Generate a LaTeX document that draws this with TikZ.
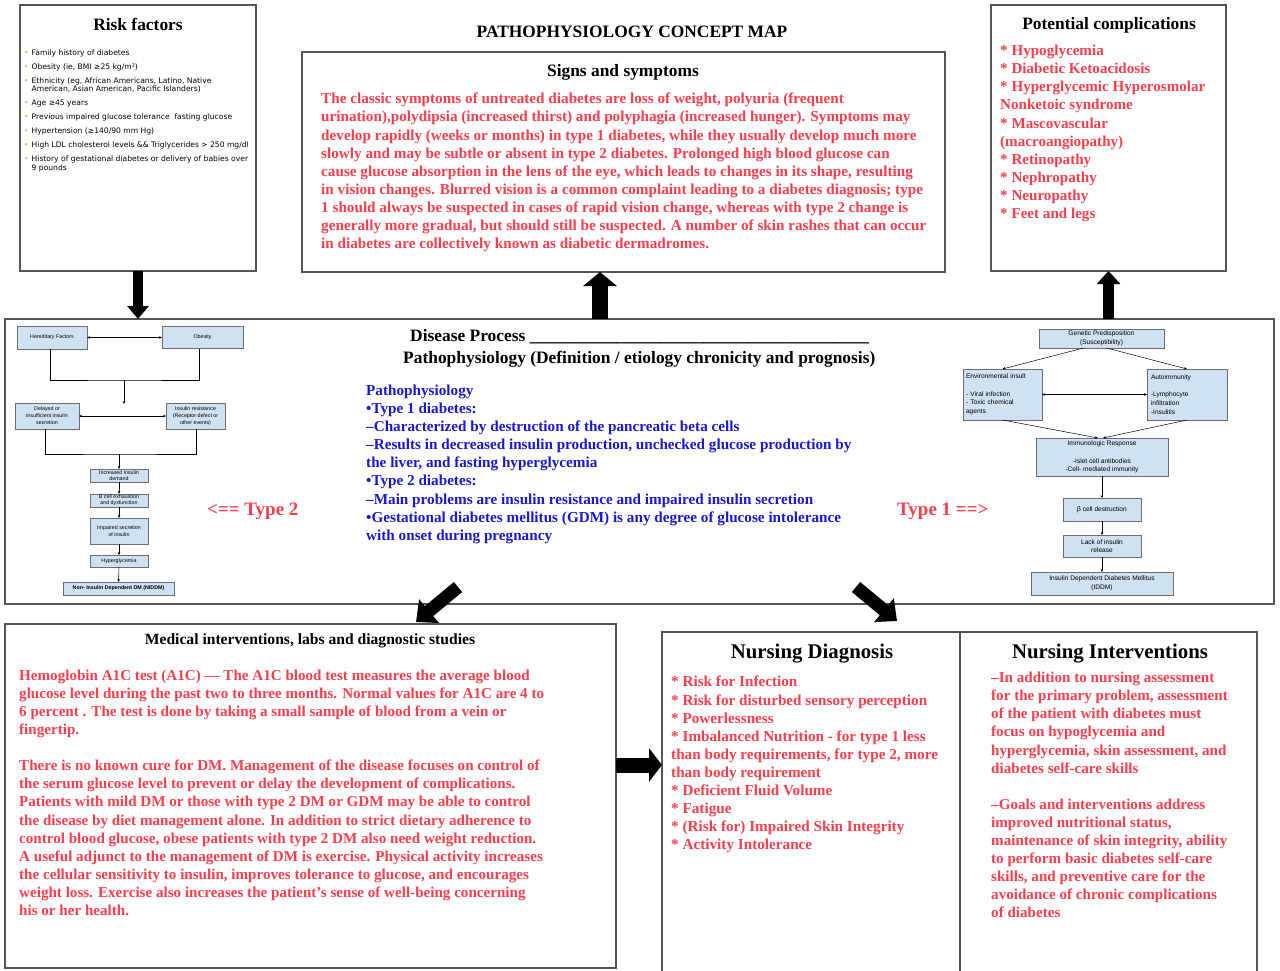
\documentclass[tikz,border=0pt]{standalone}
\usepackage{fontspec}
\setmainfont{Liberation Serif}
\newfontfamily\arialf{Liberation Sans}
\newfontfamily\verdf{DejaVu Sans}
\usetikzlibrary{arrows.meta,calc}
\definecolor{rtxt}{RGB}{250,62,76}
\definecolor{btxt}{RGB}{24,24,215}
\definecolor{fbox}{RGB}{207,226,243}
\definecolor{bordc}{RGB}{85,85,85}
\definecolor{fbord}{RGB}{110,110,110}
\definecolor{goldc}{RGB}{225,180,60}
\begin{document}
\begin{tikzpicture}[x=1pt,y=-1pt,
  bigbox/.style={draw=bordc,line width=1.6pt,inner sep=0pt,outer sep=0pt},
  ttl/.style={inner sep=0pt,font=\bfseries\fontsize{17.4}{19}\selectfont},
  bigttl/.style={inner sep=0pt,font=\bfseries\fontsize{20.8}{23}\selectfont},
  rtext/.style={anchor=north west,inner sep=0pt,align=left,text=rtxt,font=\bfseries\fontsize{15.2}{18.05}\selectfont},
  btext/.style={anchor=north west,inner sep=0pt,align=left,text=btxt,font=\bfseries\fontsize{15.2}{18.05}\selectfont},
  lbox/.style={draw=fbord,fill=fbox,line width=0.6pt,inner sep=1pt,outer sep=0pt,align=center,font=\arialf\fontsize{5.3}{7}\selectfont},
  rbox/.style={draw=fbord,fill=fbox,line width=0.6pt,inner sep=1pt,outer sep=0pt,align=center,font=\arialf\fontsize{6.6}{8.7}\selectfont},
  farr/.style={line width=0.5pt,-{Stealth[length=3pt,width=2.6pt]}},
  fdarr/.style={line width=0.5pt,{Stealth[length=3pt,width=2.6pt]}-{Stealth[length=3pt,width=2.6pt]}},
  fline/.style={line width=0.5pt},
  barrow/.style={line width=#1,-{Triangle[length=13pt,width=22pt]}},
  barrowb/.style={line width=#1,-{Triangle[length=17pt,width=30pt]}}
]
\clip (0,0) rectangle (1280,971);
\fill[white] (0,0) rectangle (1280,971);

% ---------- big boxes ----------
\node[bigbox,minimum width=236pt,minimum height=266pt] (risk) at (138,138) {};
\node[bigbox,minimum width=643pt,minimum height=220pt] (signs) at (623.5,162) {};
\node[bigbox,minimum width=235pt,minimum height=266pt] (comp) at (1108.5,138) {};
\node[bigbox,minimum width=1269pt,minimum height=285pt] (dis) at (639.5,461.5) {};
\node[bigbox,minimum width=611pt,minimum height=344pt] (med) at (310.5,796) {};
\node[bigbox,minimum width=298pt,minimum height=350pt] (ndiag) at (811,807) {};
\node[bigbox,minimum width=297pt,minimum height=350pt] (nint) at (1108.5,807) {};

% ---------- titles ----------
\node[ttl] (maint) at (632,32) {PATHOPHYSIOLOGY CONCEPT MAP};
\node[ttl] (riskt) at (138,24) {Risk factors};
\node[ttl] (signt) at (623,72) {Signs and symptoms};
\node[ttl] (compt) at (1109,25) {Potential complications};
\node[ttl,font=\bfseries\fontsize{15.6}{17}\selectfont] (medt) at (310,641) {Medical interventions, labs and diagnostic studies};
\node[bigttl] (ndiagt) at (812,654) {Nursing Diagnosis};
\node[bigttl] (nintt) at (1110,654) {Nursing Interventions};
\node[ttl,anchor=west] (dpt) at (410,337) {Disease Process \_\_\_\_\_\_\_\_\_\_\_\_\_\_\_\_\_\_\_\_\_\_\_\_\_\_\_\_\_\_\_\_\_\_\_\_\_\_\_};
\node[ttl,anchor=west] (ppt) at (403,359) {Pathophysiology (Definition / etiology chronicity and prognosis)};

% ---------- risk factor list ----------
\node[anchor=north west,inner sep=0pt,font=\verdf\fontsize{7.6}{8}\selectfont] (rflist) at (24,49.5) {%
\begin{tabular}{@{}l@{\hspace{3pt}}l@{}}
\textcolor{goldc}{•} & Family history of diabetes\\[5.9pt]
\textcolor{goldc}{•} & Obesity (ie, BMI ≥25 kg/m²)\\[5.9pt]
\textcolor{goldc}{•} & Ethnicity (eg, African Americans, Latino, Native\\
 & American, Asian American, Pacific Islanders)\\[5.9pt]
\textcolor{goldc}{•} & Age ≥45 years\\[5.9pt]
\textcolor{goldc}{•} & Previous impaired glucose tolerance\ \ fasting glucose\\[5.9pt]
\textcolor{goldc}{•} & Hypertension (≥140/90 mm Hg)\\[5.9pt]
\textcolor{goldc}{•} & High LDL cholesterol levels \&\& Triglycerides > 250 mg/dl\\[5.9pt]
\textcolor{goldc}{•} & History of gestational diabetes or delivery of babies over\\
 & 9 pounds
\end{tabular}};

% ---------- signs text ----------
\node[rtext] (stext) at (321,93) {The classic symptoms of untreated diabetes are loss of weight, polyuria (frequent\\
urination),polydipsia (increased thirst) and polyphagia (increased hunger). Symptoms may\\
develop rapidly (weeks or months) in type 1 diabetes, while they usually develop much more\\
slowly and may be subtle or absent in type 2 diabetes. Prolonged high blood glucose can\\
cause glucose absorption in the lens of the eye, which leads to changes in its shape, resulting\\
in vision changes. Blurred vision is a common complaint leading to a diabetes diagnosis; type\\
1 should always be suspected in cases of rapid vision change, whereas with type 2 change is\\
generally more gradual, but should still be suspected. A number of skin rashes that can occur\\
in diabetes are collectively known as diabetic dermadromes.};

% ---------- complications text ----------
\node[rtext,font=\bfseries\fontsize{15.1}{18.1}\selectfont] (ctext) at (1000,45) {* Hypoglycemia\\
* Diabetic Ketoacidosis\\
* Hyperglycemic Hyperosmolar\\
Nonketoic syndrome\\
* Mascovascular\\
(macroangiopathy)\\
* Retinopathy\\
* Nephropathy\\
* Neuropathy\\
* Feet and legs};

% ---------- pathophysiology text ----------
\node[btext] (ptext) at (366,385) {Pathophysiology\\
•Type 1 diabetes:\\
–Characterized by destruction of the pancreatic beta cells\\
–Results in decreased insulin production, unchecked glucose production by\\
the liver, and fasting hyperglycemia\\
•Type 2 diabetes:\\
–Main problems are insulin resistance and impaired insulin secretion\\
•Gestational diabetes mellitus (GDM) is any degree of glucose intolerance\\
with onset during pregnancy};

\node[inner sep=0pt,anchor=west,text=rtxt,font=\bfseries\fontsize{19}{22}\selectfont] (t2) at (207,511) {<== Type 2};
\node[inner sep=0pt,anchor=west,text=rtxt,font=\bfseries\fontsize{19}{22}\selectfont] (t1) at (897,511) {Type 1 ==>};

% ---------- medical text ----------
\node[rtext,font=\bfseries\fontsize{15.1}{18.05}\selectfont] (mtext) at (19,670) {Hemoglobin A1C test (A1C) — The A1C blood test measures the average blood\\
glucose level during the past two to three months. Normal values for A1C are 4 to\\
6 percent . The test is done by taking a small sample of blood from a vein or\\
fingertip.\\[18pt]
There is no known cure for DM. Management of the disease focuses on control of\\
the serum glucose level to prevent or delay the development of complications.\\
Patients with mild DM or those with type 2 DM or GDM may be able to control\\
the disease by diet management alone. In addition to strict dietary adherence to\\
control blood glucose, obese patients with type 2 DM also need weight reduction.\\
A useful adjunct to the management of DM is exercise. Physical activity increases\\
the cellular sensitivity to insulin, improves tolerance to glucose, and encourages\\
weight loss. Exercise also increases the patient’s sense of well-being concerning\\
his or her health.};

% ---------- nursing diagnosis text ----------
\node[rtext,font=\bfseries\fontsize{15.2}{18.1}\selectfont] (ndtext) at (671,676) {* Risk for Infection\\
* Risk for disturbed sensory perception\\
* Powerlessness\\
* Imbalanced Nutrition - for type 1 less\\
than body requirements, for type 2, more\\
than body requirement\\
* Deficient Fluid Volume\\
* Fatigue\\
* (Risk for) Impaired Skin Integrity\\
* Activity Intolerance};

% ---------- nursing interventions text ----------
\node[rtext,font=\bfseries\fontsize{15.1}{18.1}\selectfont] (nitext) at (991,672) {–In addition to nursing assessment\\
for the primary problem, assessment\\
of the patient with diabetes must\\
focus on hypoglycemia and\\
hyperglycemia, skin assessment, and\\
diabetes self-care skills\\[18pt]
–Goals and interventions address\\
improved nutritional status,\\
maintenance of skin integrity, ability\\
to perform basic diabetes self-care\\
skills, and preventive care for the\\
avoidance of chronic complications\\
of diabetes};

% ---------- type 2 flowchart ----------
\node[lbox,minimum width=70pt,minimum height=23pt] (her) at (52,337.5) {Hereditary Factors};
\node[lbox,minimum width=81pt,minimum height=22pt] (obe) at (202.5,337.5) {Obesity};
\node[lbox,minimum width=64pt,minimum height=26pt] (del) at (47,416) {Delayed or\\insufficient insulin\\secretion};
\node[lbox,minimum width=59pt,minimum height=26pt] (ires) at (195.5,416) {Insulin resistance\\(Receptor defect or\\other events)};
\node[lbox,minimum width=58pt,minimum height=13pt] (inc) at (119,475.5) {Increased insulin\\[-1pt]demand};
\node[lbox,minimum width=58pt,minimum height=13pt] (bce) at (119,500.5) {B cell exhaustion\\[-1pt]and dysfunction};
\node[lbox,minimum width=58pt,minimum height=26pt] (imp) at (119,531) {Impaired secretion\\of insulin};
\node[lbox,minimum width=58pt,minimum height=12pt] (hyp) at (119,561) {Hyperglycemia};
\node[lbox,minimum width=111pt,minimum height=13pt,font=\arialf\bfseries\fontsize{5.3}{7}\selectfont] (nid) at (118.5,588.5) {Non- Insulin Dependent DM (NIDDM)};

\coordinate (m1) at (124,380);
\coordinate (j1) at (124,404);
\coordinate (m2) at (119,454);
\draw[fdarr] (her) -- (obe);
\draw[fline] ($(her.south)+(-2,0)$) |- (m1) -| ($(obe.south)+(-3,0)$);
\draw[farr] (m1) -- (j1);
\draw[fdarr] (del) -- (ires);
\draw[fline] ($(del.south)+(-2,0)$) |- (m2) -| ($(ires.south)+(0.5,0)$);
\draw[farr] (m2) -- (inc.north);
\draw[farr] (inc) -- (bce);
\draw[farr] (bce) -- (imp);
\draw[farr] (imp) -- (hyp);
\draw[farr] (hyp) -- (nid);

% ---------- type 1 flowchart ----------
\node[rbox,minimum width=125pt,minimum height=19pt] (gen) at (1101.5,338.5) {Genetic Predisposition\\(Susceptibility)};
\node[rbox,minimum width=79pt,minimum height=51pt,text width=73pt,align=left] (env) at (1002.5,394.5) {Environmental insult\\[8.7pt]- Viral infection\\- Toxic chemical\\agents};
\node[rbox,minimum width=80pt,minimum height=51pt,text width=72pt,align=left] (aut) at (1187,394.5) {Autoimmunity\\[8.7pt]-Lymphocyte\\infiltration\\-Insulitis};
\node[rbox,minimum width=132pt,minimum height=38pt] (imm) at (1102,457) {Immunologic Response\\[8.7pt]-Islet cell antibodies\\-Cell- mediated immunity};
\node[rbox,minimum width=78pt,minimum height=23pt] (bcd) at (1102,509.5) {β cell destruction};
\node[rbox,minimum width=78pt,minimum height=22pt] (lack) at (1102,546) {Lack of insulin\\release};
\node[rbox,minimum width=142pt,minimum height=23pt] (iddm) at (1102,583.5) {Insulin Dependent Diabetes Mellitus\\(IDDM)};

\draw[farr] ($(gen.south)+(-18,0)$) -- (env.north);
\draw[farr] ($(gen.south)+(5,0)$) -- (aut.north);
\draw[fdarr] (env) -- (aut);
\draw[farr] (env.south) -- ($(imm.north)+(-4,0)$);
\draw[farr] (aut.south) -- ($(imm.north)+(1,0)$);
\draw[farr] (imm) -- (bcd);
\draw[farr] (bcd) -- (lack);
\draw[farr] (lack) -- (iddm);

% ---------- block arrows ----------
\coordinate (u600) at (600,0);
\coordinate (y765) at (0,765);
\coordinate (dla) at (458,587);
\coordinate (dlb) at (416,622);
\coordinate (dra) at (856,587);
\coordinate (drb) at (897,621);
\draw[barrow=10pt,-{Triangle[length=13pt,width=21pt]}] (risk.south) -- (risk.south |- dis.north);
\draw[barrow=16pt,-{Triangle[length=14pt,width=33pt]}] (dis.north -| u600) -- (signs.south -| u600);
\draw[barrow=11pt,-{Triangle[length=13pt,width=23pt]}] (dis.north -| comp.south) -- (comp.south);
\draw[barrowb=13pt] (dla) -- (dlb);
\draw[barrowb=13pt] (dra) -- (drb);
\draw[barrow=15pt,-{Triangle[length=13pt,width=33pt]}] (med.east |- y765) -- (ndiag.west |- y765);
\end{tikzpicture}
\end{document}
